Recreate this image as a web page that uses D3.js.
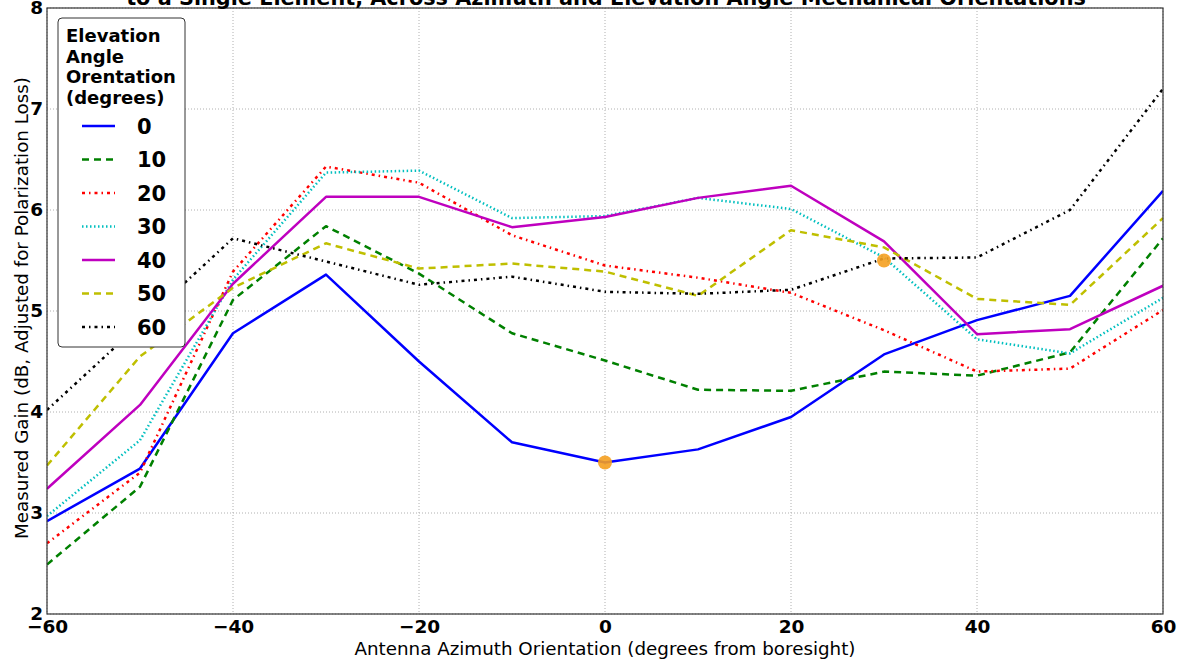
<!DOCTYPE html>
<html><head><meta charset="utf-8">
<script src="https://cdn.jsdelivr.net/npm/d3@7"></script>
<style>
body{margin:0;background:#fff;}
svg{display:block;font-family:"DejaVu Sans",sans-serif;}
</style></head>
<body>
<svg id="chart" width="1186" height="659"></svg>
<script>
const azimuths = [-60,-50,-40,-30,-20,-10,0,10,20,30,40,50,60];
const seriesNames = ["0","10","20","30","40","50","60"];
const gain0  = [2.92,3.44,4.78,5.36,4.50,3.70,3.50,3.63,3.95,4.57,4.91,5.15,6.19];
const gain10 = [2.49,3.26,5.11,5.84,5.37,4.78,4.51,4.22,4.21,4.40,4.36,4.59,5.72];
const gain20 = [2.70,3.40,5.39,6.43,6.27,5.75,5.45,5.33,5.18,4.81,4.40,4.43,5.01];
const gain30 = [2.97,3.72,5.31,6.37,6.39,5.92,5.94,6.12,6.01,5.53,4.72,4.58,5.13];
const gain40 = [3.24,4.07,5.27,6.13,6.13,5.83,5.93,6.12,6.24,5.69,4.77,4.82,5.25];
const gain50 = [3.47,4.55,5.23,5.67,5.42,5.47,5.39,5.15,5.80,5.63,5.12,5.06,5.92];
const gain60 = [4.02,4.87,5.72,5.49,5.26,5.34,5.19,5.17,5.21,5.52,5.53,6.00,7.20];
const highlightX = [0,30];
const highlightY = [3.50,5.50];
const xTicks = [-60,-40,-20,0,20,40,60];
const yTicks = [2,3,4,5,6,7,8];
const legendTitle = ["Elevation","Angle","Orentation","(degrees)"];
const titleText = "to a Single Element, Across Azimuth and Elevation Angle Mechanical Orientations";
const xLabel = "Antenna Azimuth Orientation (degrees from boresight)";
const yLabel = "Measured Gain (dB, Adjusted for Polarization Loss)";

const allGains = [gain0,gain10,gain20,gain30,gain40,gain50,gain60];
const colors = ["#0000ff","#008000","#ff0000","#00bfbf","#bf00bf","#bfbf00","#000000"];
const dashes = [null,"7,5","3,4,1.5,4","1.5,2.5",null,"7,5","3,4,1.5,4"];

const svg = d3.select("#chart");
const L=47,R=1163,T=8,B=614;
const x = d3.scaleLinear().domain([-60,60]).range([L,R]);
const y = d3.scaleLinear().domain([2,8]).range([B,T]);

// grid
const g = svg.append("g");
g.selectAll(".vx").data(xTicks).enter().append("line")
  .attr("x1",d=>x(d)).attr("x2",d=>x(d)).attr("y1",T).attr("y2",B)
  .attr("stroke","#b0b0b0").attr("stroke-width",1).attr("stroke-dasharray","1,2");
g.selectAll(".hy").data(yTicks).enter().append("line")
  .attr("y1",d=>y(d)).attr("y2",d=>y(d)).attr("x1",L).attr("x2",R)
  .attr("stroke","#b0b0b0").attr("stroke-width",1).attr("stroke-dasharray","1,2");

svg.append("clipPath").attr("id","clip").append("rect")
  .attr("x",L).attr("y",T).attr("width",R-L).attr("height",B-T);

const line = d3.line().x((d,i)=>x(azimuths[i])).y(d=>y(d));
const lines = svg.append("g").attr("clip-path","url(#clip)");
allGains.forEach((s,k)=>{
  lines.append("path").datum(s).attr("d",line)
    .attr("fill","none").attr("stroke",colors[k]).attr("stroke-width",2.5)
    .attr("stroke-dasharray",dashes[k]).attr("stroke-linejoin","round");
});
lines.selectAll(".hl").data(highlightX).enter().append("circle")
  .attr("cx",d=>x(d)).attr("cy",(d,i)=>y(highlightY[i])).attr("r",7)
  .attr("fill","#f5a020").attr("stroke","none").attr("opacity",0.9);

// frame
svg.append("rect").attr("x",L).attr("y",T).attr("width",R-L).attr("height",B-T)
  .attr("fill","none").attr("stroke","#333").attr("stroke-width",1.2);

// axes
const xAxis = d3.axisBottom(x).tickValues(xTicks).tickSize(0).tickPadding(6)
  .tickFormat(d=>d3.format("d")(d).replace("-","\u2212"));
const xg = svg.append("g").attr("transform",`translate(0,${B})`).call(xAxis);
xg.select(".domain").remove();
xg.selectAll("text").attr("font-size",18.5).attr("font-weight","bold").attr("fill","#000")
  .attr("font-family","DejaVu Sans").attr("dy","0.72em");
const yAxis = d3.axisLeft(y).tickValues(yTicks).tickSize(0).tickPadding(4)
  .tickFormat(d3.format("d"));
const yg = svg.append("g").attr("transform",`translate(${L},0)`).call(yAxis);
yg.select(".domain").remove();
yg.selectAll("text").attr("font-size",18.5).attr("font-weight","bold").attr("fill","#000")
  .attr("font-family","DejaVu Sans");

svg.append("text").attr("x",x(0)).attr("y",655).attr("text-anchor","middle")
  .attr("font-size",18.3).text(xLabel);
svg.append("text").attr("transform",`translate(28,${(T+B)/2-3}) rotate(-90)`)
  .attr("text-anchor","middle").attr("font-size",18.3).text(yLabel);

svg.append("text").attr("x",606).attr("y",5).attr("text-anchor","middle")
  .attr("font-size",20.8).attr("font-weight","bold").text(titleText);

// legend
const lg = svg.append("g");
lg.append("rect").attr("x",58).attr("y",18).attr("width",127).attr("height",329)
  .attr("rx",4).attr("fill","#fff").attr("stroke","#333").attr("stroke-width",1);
legendTitle.forEach((t,i)=>{
  lg.append("text").attr("x",66).attr("y",42+i*20.5).attr("font-size",18)
    .attr("font-weight","bold").text(t);
});
seriesNames.forEach((n,k)=>{
  const yy = 126+k*33.5;
  lg.append("line").attr("x1",82).attr("x2",115).attr("y1",yy).attr("y2",yy)
    .attr("stroke",colors[k]).attr("stroke-width",2.5).attr("stroke-dasharray",dashes[k]);
  lg.append("text").attr("x",137).attr("y",yy+7.5).attr("font-size",21)
    .attr("font-weight","bold").text(n);
});
</script>
</body></html>
